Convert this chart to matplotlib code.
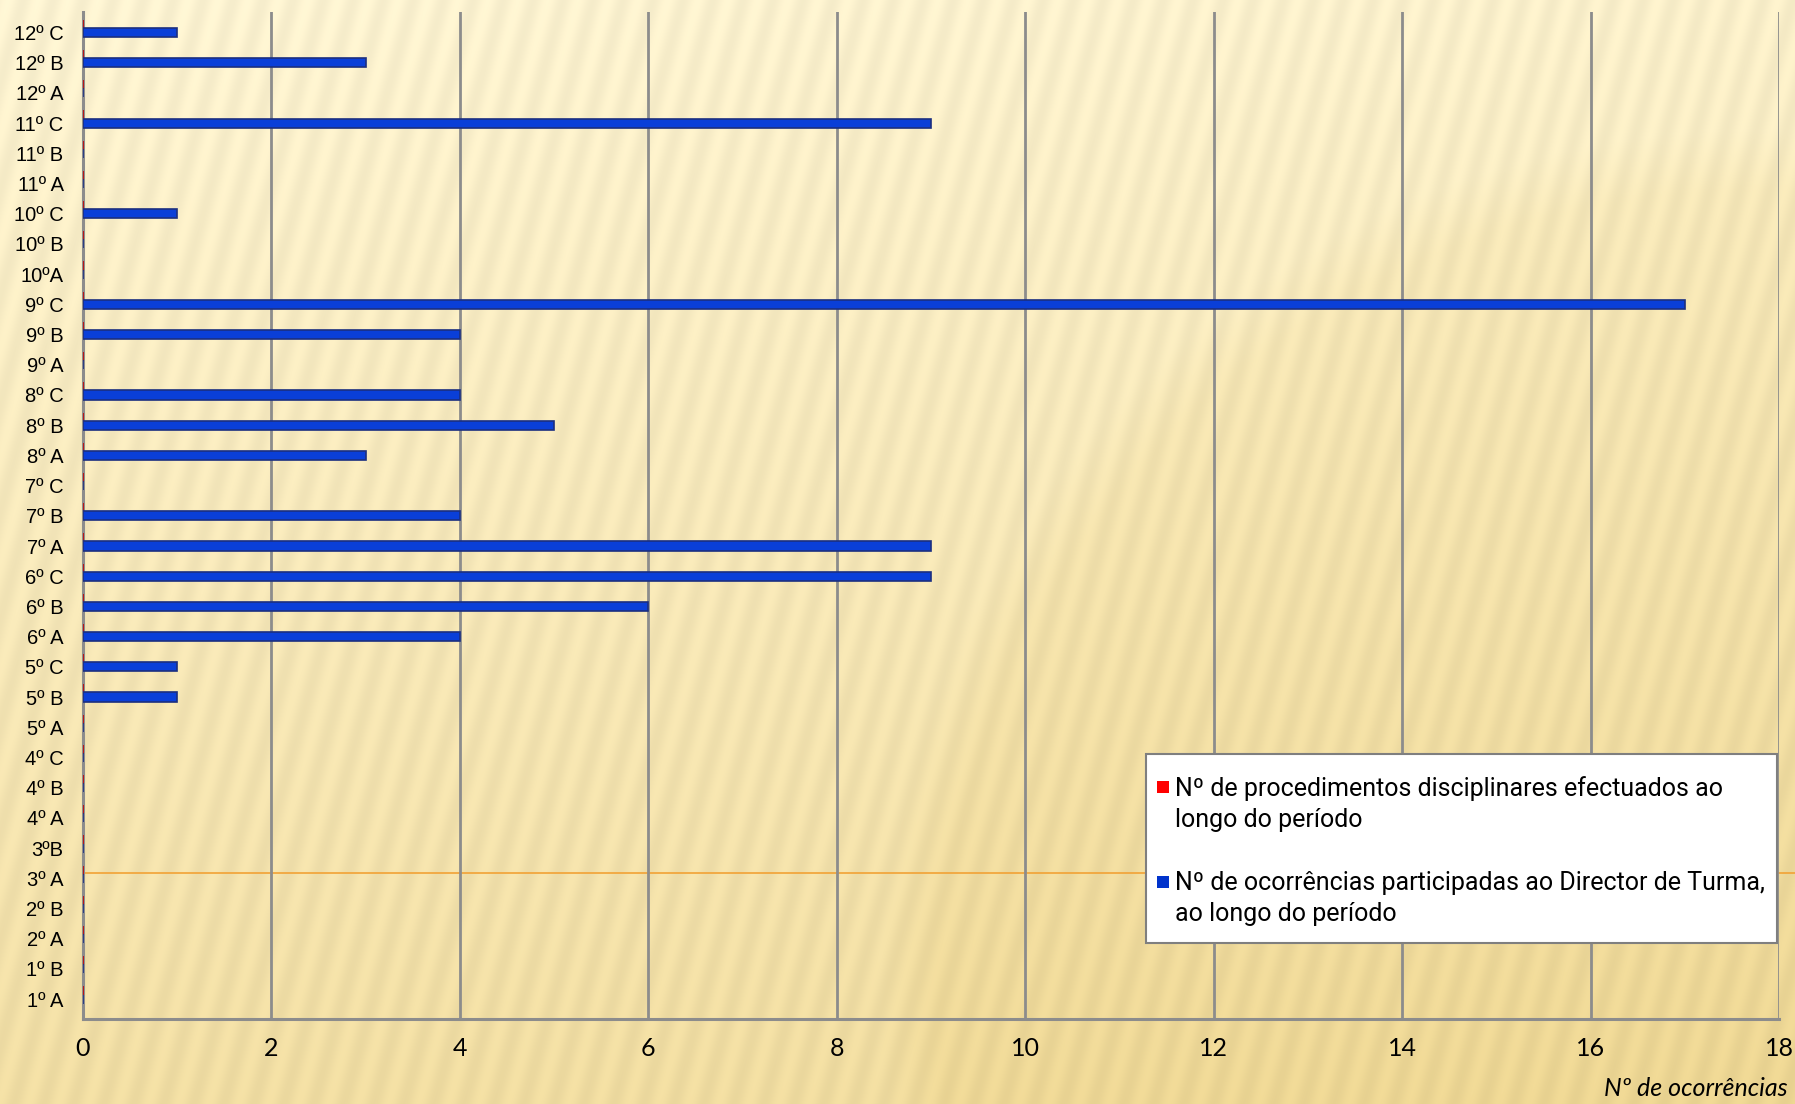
import numpy as np
import matplotlib
matplotlib.use("Agg")
import matplotlib.pyplot as plt
from matplotlib.lines import Line2D
from matplotlib.patches import Rectangle

# classes, bottom to top as drawn on the chart
turmas = [
    "1º A", "1º B", "2º A", "2º B", "3º A", "3ºB", "4º A", "4º B", "4º C",
    "5º A", "5º B", "5º C", "6º A", "6º B", "6º C", "7º A", "7º B", "7º C",
    "8º A", "8º B", "8º C", "9º A", "9º B", "9º C", "10ºA", "10º B", "10º C",
    "11º A", "11º B", "11º C", "12º A", "12º B", "12º C",
]
procedimentos = [0] * 33
ocorrencias = [
    0, 0, 0, 0, 0, 0, 0, 0, 0,
    0, 1, 1, 4, 6, 9, 9, 4, 0,
    3, 5, 4, 0, 4, 17, 0, 0, 1,
    0, 0, 9, 0, 3, 1,
]
x_ticks = [0, 2, 4, 6, 8, 10, 12, 14, 16, 18]

lab_proc = "Nº de procedimentos disciplinares efectuados ao\nlongo do período"
lab_ocor = "Nº de ocorrências participadas ao Director de Turma,\nao longo do período"


def background(w, h):
    yy, xx = np.mgrid[0:h, 0:w].astype(float)
    r = np.sqrt((xx - 1750) ** 2 + (yy - 1000) ** 2)
    inside = np.clip((870 - r) / 60, 0, 1)
    t = 0.6 * yy / h + 0.1 * xx / w + 0.12 * inside
    t = np.clip(t, 0, 1)
    light = np.array([252, 243, 210]) / 255
    dark = np.array([233, 207, 132]) / 255
    img = light[None, None, :] * (1 - t[..., None]) + dark[None, None, :] * t[..., None]
    stripes = np.sin(2 * np.pi * (xx + 0.28 * yy) / 30.0)
    img = img * (1 + 0.022 * stripes[..., None])
    return np.clip(img, 0, 1)


def main():
    W, H = 1795, 1104
    fig = plt.figure(figsize=(W / 100, H / 100), dpi=100)

    bg = fig.add_axes([0, 0, 1, 1], zorder=-5)
    bg.imshow(background(W, H), aspect="auto", interpolation="bilinear")
    bg.axis("off")

    # orange rule from the slide behind the chart
    fig.add_artist(Line2D([85 / W, 1.0], [1 - 873 / H, 1 - 873 / H],
                          color="#f2a235", lw=1.2, zorder=1))

    ax = fig.add_axes([83 / W, 1 - 1019 / H, 1696 / W, 1007 / H], zorder=2)
    ax.set_facecolor("none")

    y = np.arange(len(turmas))
    h = 0.3
    ax.barh(y + 0.27, procedimentos, height=h, color="#ff1010",
            edgecolor="#c00000", linewidth=1.2, zorder=3)
    ax.barh(y, ocorrencias, height=h, color="#0a3fd8",
            edgecolor="#1b2f80", linewidth=1.2, zorder=3)

    ax.set_xlim(0, 18)
    ax.set_ylim(-0.66, 32.68)
    ax.set_xticks(x_ticks)
    ax.set_yticks(y)
    ax.set_yticklabels(turmas, fontfamily="Liberation Sans", fontsize=14.5)
    for lbl in ax.get_xticklabels():
        lbl.set_fontfamily("Lato")
        lbl.set_fontsize(18)
    ax.tick_params(axis="both", length=0)
    ax.tick_params(axis="y", pad=14)
    ax.tick_params(axis="x", pad=13)

    ax.grid(axis="x", color="#8c8c8c", linewidth=2, zorder=1)
    ax.set_axisbelow(True)
    for side in ("top", "right"):
        ax.spines[side].set_visible(False)
    for side in ("left", "bottom"):
        ax.spines[side].set_color("#8c8c8c")
        ax.spines[side].set_linewidth(2.2)

    fig.text(1788 / W, 1 - 1088 / H, "Nº de ocorrências", ha="right", va="center",
             fontfamily="Lato", fontstyle="italic", fontsize=18)

    # legend, laid out by hand: key squares sit on the first line of each entry
    fig.add_artist(Rectangle((1146 / W, 1 - 943 / H), 631 / W, 189 / H,
                             transform=fig.transFigure, facecolor="white",
                             edgecolor="#7f7f7f", linewidth=1.5, zorder=3))
    entries = [(lab_proc, "#ff0000", 787), (lab_ocor, "#0033cc", 882)]
    for label, colour, yc in entries:
        fig.add_artist(Rectangle((1157 / W, 1 - (yc + 6) / H), 12 / W, 12 / H,
                                 transform=fig.transFigure, facecolor=colour,
                                 edgecolor="none", zorder=4))
        fig.text(1175 / W, 1 - (yc - 11) / H, label, ha="left", va="top",
                 fontfamily="Roboto", fontsize=18, linespacing=1.35, zorder=5)

    fig.savefig("out.png", dpi=100)
    plt.close(fig)


if __name__ == "__main__":
    main()
